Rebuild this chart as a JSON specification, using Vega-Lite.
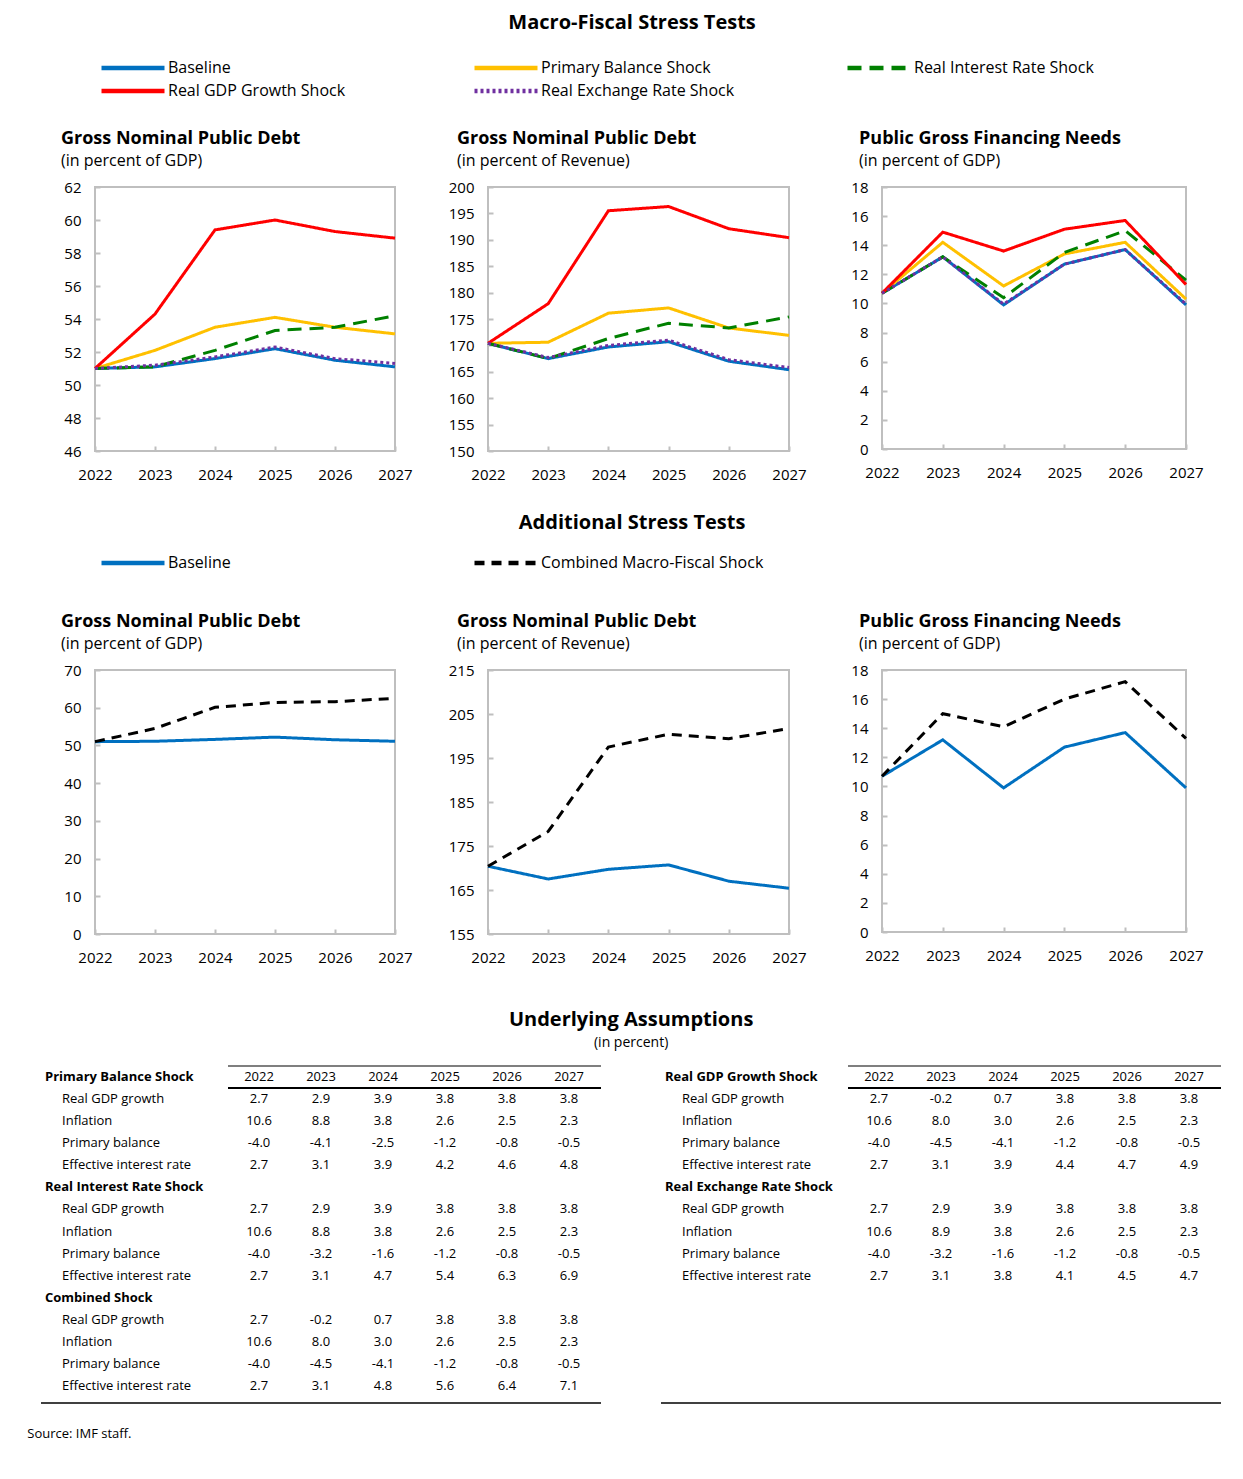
{
  "$schema": "https://vega.github.io/schema/vega-lite/v6.json",
  "background": "white",
  "padding": {"left": 27, "top": 13, "right": 5, "bottom": 5},
  "title": {"text": "Source: IMF staff.", "orient": "bottom", "anchor": "start", "frame": "bounds", "fontSize": 13, "fontWeight": "normal", "dx": -13, "offset": 24},
  "datasets": {
    "lines": [
      {"panel": "A1", "series": "Baseline", "year": 2022, "value": 51.0},
      {"panel": "A1", "series": "Baseline", "year": 2023, "value": 51.1},
      {"panel": "A1", "series": "Baseline", "year": 2024, "value": 51.6},
      {"panel": "A1", "series": "Baseline", "year": 2025, "value": 52.2},
      {"panel": "A1", "series": "Baseline", "year": 2026, "value": 51.5},
      {"panel": "A1", "series": "Baseline", "year": 2027, "value": 51.1},
      {"panel": "A1", "series": "Primary Balance Shock", "year": 2022, "value": 51.0},
      {"panel": "A1", "series": "Primary Balance Shock", "year": 2023, "value": 52.1},
      {"panel": "A1", "series": "Primary Balance Shock", "year": 2024, "value": 53.5},
      {"panel": "A1", "series": "Primary Balance Shock", "year": 2025, "value": 54.1},
      {"panel": "A1", "series": "Primary Balance Shock", "year": 2026, "value": 53.5},
      {"panel": "A1", "series": "Primary Balance Shock", "year": 2027, "value": 53.1},
      {"panel": "A1", "series": "Real Interest Rate Shock", "year": 2022, "value": 51.0},
      {"panel": "A1", "series": "Real Interest Rate Shock", "year": 2023, "value": 51.1},
      {"panel": "A1", "series": "Real Interest Rate Shock", "year": 2024, "value": 52.1},
      {"panel": "A1", "series": "Real Interest Rate Shock", "year": 2025, "value": 53.3},
      {"panel": "A1", "series": "Real Interest Rate Shock", "year": 2026, "value": 53.5},
      {"panel": "A1", "series": "Real Interest Rate Shock", "year": 2027, "value": 54.2},
      {"panel": "A1", "series": "Real GDP Growth Shock", "year": 2022, "value": 51.0},
      {"panel": "A1", "series": "Real GDP Growth Shock", "year": 2023, "value": 54.3},
      {"panel": "A1", "series": "Real GDP Growth Shock", "year": 2024, "value": 59.4},
      {"panel": "A1", "series": "Real GDP Growth Shock", "year": 2025, "value": 60.0},
      {"panel": "A1", "series": "Real GDP Growth Shock", "year": 2026, "value": 59.3},
      {"panel": "A1", "series": "Real GDP Growth Shock", "year": 2027, "value": 58.9},
      {"panel": "A1", "series": "Real Exchange Rate Shock", "year": 2022, "value": 51.0},
      {"panel": "A1", "series": "Real Exchange Rate Shock", "year": 2023, "value": 51.2},
      {"panel": "A1", "series": "Real Exchange Rate Shock", "year": 2024, "value": 51.7},
      {"panel": "A1", "series": "Real Exchange Rate Shock", "year": 2025, "value": 52.3},
      {"panel": "A1", "series": "Real Exchange Rate Shock", "year": 2026, "value": 51.6},
      {"panel": "A1", "series": "Real Exchange Rate Shock", "year": 2027, "value": 51.3},

      {"panel": "A2", "series": "Baseline", "year": 2022, "value": 170.4},
      {"panel": "A2", "series": "Baseline", "year": 2023, "value": 167.5},
      {"panel": "A2", "series": "Baseline", "year": 2024, "value": 169.7},
      {"panel": "A2", "series": "Baseline", "year": 2025, "value": 170.7},
      {"panel": "A2", "series": "Baseline", "year": 2026, "value": 167.0},
      {"panel": "A2", "series": "Baseline", "year": 2027, "value": 165.4},
      {"panel": "A2", "series": "Primary Balance Shock", "year": 2022, "value": 170.4},
      {"panel": "A2", "series": "Primary Balance Shock", "year": 2023, "value": 170.6},
      {"panel": "A2", "series": "Primary Balance Shock", "year": 2024, "value": 176.1},
      {"panel": "A2", "series": "Primary Balance Shock", "year": 2025, "value": 177.1},
      {"panel": "A2", "series": "Primary Balance Shock", "year": 2026, "value": 173.3},
      {"panel": "A2", "series": "Primary Balance Shock", "year": 2027, "value": 171.9},
      {"panel": "A2", "series": "Real Interest Rate Shock", "year": 2022, "value": 170.4},
      {"panel": "A2", "series": "Real Interest Rate Shock", "year": 2023, "value": 167.5},
      {"panel": "A2", "series": "Real Interest Rate Shock", "year": 2024, "value": 171.3},
      {"panel": "A2", "series": "Real Interest Rate Shock", "year": 2025, "value": 174.2},
      {"panel": "A2", "series": "Real Interest Rate Shock", "year": 2026, "value": 173.3},
      {"panel": "A2", "series": "Real Interest Rate Shock", "year": 2027, "value": 175.4},
      {"panel": "A2", "series": "Real GDP Growth Shock", "year": 2022, "value": 170.4},
      {"panel": "A2", "series": "Real GDP Growth Shock", "year": 2023, "value": 177.9},
      {"panel": "A2", "series": "Real GDP Growth Shock", "year": 2024, "value": 195.5},
      {"panel": "A2", "series": "Real GDP Growth Shock", "year": 2025, "value": 196.3},
      {"panel": "A2", "series": "Real GDP Growth Shock", "year": 2026, "value": 192.1},
      {"panel": "A2", "series": "Real GDP Growth Shock", "year": 2027, "value": 190.4},
      {"panel": "A2", "series": "Real Exchange Rate Shock", "year": 2022, "value": 170.4},
      {"panel": "A2", "series": "Real Exchange Rate Shock", "year": 2023, "value": 167.7},
      {"panel": "A2", "series": "Real Exchange Rate Shock", "year": 2024, "value": 170.0},
      {"panel": "A2", "series": "Real Exchange Rate Shock", "year": 2025, "value": 171.0},
      {"panel": "A2", "series": "Real Exchange Rate Shock", "year": 2026, "value": 167.3},
      {"panel": "A2", "series": "Real Exchange Rate Shock", "year": 2027, "value": 165.8},

      {"panel": "A3", "series": "Baseline", "year": 2022, "value": 10.7},
      {"panel": "A3", "series": "Baseline", "year": 2023, "value": 13.2},
      {"panel": "A3", "series": "Baseline", "year": 2024, "value": 9.9},
      {"panel": "A3", "series": "Baseline", "year": 2025, "value": 12.7},
      {"panel": "A3", "series": "Baseline", "year": 2026, "value": 13.7},
      {"panel": "A3", "series": "Baseline", "year": 2027, "value": 9.9},
      {"panel": "A3", "series": "Primary Balance Shock", "year": 2022, "value": 10.7},
      {"panel": "A3", "series": "Primary Balance Shock", "year": 2023, "value": 14.2},
      {"panel": "A3", "series": "Primary Balance Shock", "year": 2024, "value": 11.2},
      {"panel": "A3", "series": "Primary Balance Shock", "year": 2025, "value": 13.4},
      {"panel": "A3", "series": "Primary Balance Shock", "year": 2026, "value": 14.2},
      {"panel": "A3", "series": "Primary Balance Shock", "year": 2027, "value": 10.3},
      {"panel": "A3", "series": "Real Interest Rate Shock", "year": 2022, "value": 10.7},
      {"panel": "A3", "series": "Real Interest Rate Shock", "year": 2023, "value": 13.2},
      {"panel": "A3", "series": "Real Interest Rate Shock", "year": 2024, "value": 10.4},
      {"panel": "A3", "series": "Real Interest Rate Shock", "year": 2025, "value": 13.5},
      {"panel": "A3", "series": "Real Interest Rate Shock", "year": 2026, "value": 15.0},
      {"panel": "A3", "series": "Real Interest Rate Shock", "year": 2027, "value": 11.6},
      {"panel": "A3", "series": "Real GDP Growth Shock", "year": 2022, "value": 10.7},
      {"panel": "A3", "series": "Real GDP Growth Shock", "year": 2023, "value": 14.9},
      {"panel": "A3", "series": "Real GDP Growth Shock", "year": 2024, "value": 13.6},
      {"panel": "A3", "series": "Real GDP Growth Shock", "year": 2025, "value": 15.1},
      {"panel": "A3", "series": "Real GDP Growth Shock", "year": 2026, "value": 15.7},
      {"panel": "A3", "series": "Real GDP Growth Shock", "year": 2027, "value": 11.3},
      {"panel": "A3", "series": "Real Exchange Rate Shock", "year": 2022, "value": 10.7},
      {"panel": "A3", "series": "Real Exchange Rate Shock", "year": 2023, "value": 13.2},
      {"panel": "A3", "series": "Real Exchange Rate Shock", "year": 2024, "value": 9.95},
      {"panel": "A3", "series": "Real Exchange Rate Shock", "year": 2025, "value": 12.7},
      {"panel": "A3", "series": "Real Exchange Rate Shock", "year": 2026, "value": 13.7},
      {"panel": "A3", "series": "Real Exchange Rate Shock", "year": 2027, "value": 9.95},

      {"panel": "B1", "series": "Baseline", "year": 2022, "value": 51.0},
      {"panel": "B1", "series": "Baseline", "year": 2023, "value": 51.1},
      {"panel": "B1", "series": "Baseline", "year": 2024, "value": 51.6},
      {"panel": "B1", "series": "Baseline", "year": 2025, "value": 52.2},
      {"panel": "B1", "series": "Baseline", "year": 2026, "value": 51.5},
      {"panel": "B1", "series": "Baseline", "year": 2027, "value": 51.1},
      {"panel": "B1", "series": "Combined Macro-Fiscal Shock", "year": 2022, "value": 51.0},
      {"panel": "B1", "series": "Combined Macro-Fiscal Shock", "year": 2023, "value": 54.5},
      {"panel": "B1", "series": "Combined Macro-Fiscal Shock", "year": 2024, "value": 60.1},
      {"panel": "B1", "series": "Combined Macro-Fiscal Shock", "year": 2025, "value": 61.4},
      {"panel": "B1", "series": "Combined Macro-Fiscal Shock", "year": 2026, "value": 61.6},
      {"panel": "B1", "series": "Combined Macro-Fiscal Shock", "year": 2027, "value": 62.5},

      {"panel": "B2", "series": "Baseline", "year": 2022, "value": 170.4},
      {"panel": "B2", "series": "Baseline", "year": 2023, "value": 167.5},
      {"panel": "B2", "series": "Baseline", "year": 2024, "value": 169.7},
      {"panel": "B2", "series": "Baseline", "year": 2025, "value": 170.7},
      {"panel": "B2", "series": "Baseline", "year": 2026, "value": 167.0},
      {"panel": "B2", "series": "Baseline", "year": 2027, "value": 165.4},
      {"panel": "B2", "series": "Combined Macro-Fiscal Shock", "year": 2022, "value": 170.4},
      {"panel": "B2", "series": "Combined Macro-Fiscal Shock", "year": 2023, "value": 178.3},
      {"panel": "B2", "series": "Combined Macro-Fiscal Shock", "year": 2024, "value": 197.5},
      {"panel": "B2", "series": "Combined Macro-Fiscal Shock", "year": 2025, "value": 200.4},
      {"panel": "B2", "series": "Combined Macro-Fiscal Shock", "year": 2026, "value": 199.4},
      {"panel": "B2", "series": "Combined Macro-Fiscal Shock", "year": 2027, "value": 201.7},

      {"panel": "B3", "series": "Baseline", "year": 2022, "value": 10.7},
      {"panel": "B3", "series": "Baseline", "year": 2023, "value": 13.2},
      {"panel": "B3", "series": "Baseline", "year": 2024, "value": 9.9},
      {"panel": "B3", "series": "Baseline", "year": 2025, "value": 12.7},
      {"panel": "B3", "series": "Baseline", "year": 2026, "value": 13.7},
      {"panel": "B3", "series": "Baseline", "year": 2027, "value": 9.9},
      {"panel": "B3", "series": "Combined Macro-Fiscal Shock", "year": 2022, "value": 10.7},
      {"panel": "B3", "series": "Combined Macro-Fiscal Shock", "year": 2023, "value": 15.0},
      {"panel": "B3", "series": "Combined Macro-Fiscal Shock", "year": 2024, "value": 14.1},
      {"panel": "B3", "series": "Combined Macro-Fiscal Shock", "year": 2025, "value": 16.0},
      {"panel": "B3", "series": "Combined Macro-Fiscal Shock", "year": 2026, "value": 17.2},
      {"panel": "B3", "series": "Combined Macro-Fiscal Shock", "year": 2027, "value": 13.3}
    ],
    "assump": [
      {"tbl": "L", "row": "PB", "label": "Primary Balance Shock", "kind": "section"},
      {"tbl": "L", "row": "PB-gdp", "label": "Real GDP growth", "kind": "item", "2022": 2.7, "2023": 2.9, "2024": 3.9, "2025": 3.8, "2026": 3.8, "2027": 3.8},
      {"tbl": "L", "row": "PB-inf", "label": "Inflation", "kind": "item", "2022": 10.6, "2023": 8.8, "2024": 3.8, "2025": 2.6, "2026": 2.5, "2027": 2.3},
      {"tbl": "L", "row": "PB-pb", "label": "Primary balance", "kind": "item", "2022": -4.0, "2023": -4.1, "2024": -2.5, "2025": -1.2, "2026": -0.8, "2027": -0.5},
      {"tbl": "L", "row": "PB-eir", "label": "Effective interest rate", "kind": "item", "2022": 2.7, "2023": 3.1, "2024": 3.9, "2025": 4.2, "2026": 4.6, "2027": 4.8},
      {"tbl": "L", "row": "RI", "label": "Real Interest Rate Shock", "kind": "section"},
      {"tbl": "L", "row": "RI-gdp", "label": "Real GDP growth", "kind": "item", "2022": 2.7, "2023": 2.9, "2024": 3.9, "2025": 3.8, "2026": 3.8, "2027": 3.8},
      {"tbl": "L", "row": "RI-inf", "label": "Inflation", "kind": "item", "2022": 10.6, "2023": 8.8, "2024": 3.8, "2025": 2.6, "2026": 2.5, "2027": 2.3},
      {"tbl": "L", "row": "RI-pb", "label": "Primary balance", "kind": "item", "2022": -4.0, "2023": -3.2, "2024": -1.6, "2025": -1.2, "2026": -0.8, "2027": -0.5},
      {"tbl": "L", "row": "RI-eir", "label": "Effective interest rate", "kind": "item", "2022": 2.7, "2023": 3.1, "2024": 4.7, "2025": 5.4, "2026": 6.3, "2027": 6.9},
      {"tbl": "L", "row": "CS", "label": "Combined Shock", "kind": "section"},
      {"tbl": "L", "row": "CS-gdp", "label": "Real GDP growth", "kind": "item", "2022": 2.7, "2023": -0.2, "2024": 0.7, "2025": 3.8, "2026": 3.8, "2027": 3.8},
      {"tbl": "L", "row": "CS-inf", "label": "Inflation", "kind": "item", "2022": 10.6, "2023": 8.0, "2024": 3.0, "2025": 2.6, "2026": 2.5, "2027": 2.3},
      {"tbl": "L", "row": "CS-pb", "label": "Primary balance", "kind": "item", "2022": -4.0, "2023": -4.5, "2024": -4.1, "2025": -1.2, "2026": -0.8, "2027": -0.5},
      {"tbl": "L", "row": "CS-eir", "label": "Effective interest rate", "kind": "item", "2022": 2.7, "2023": 3.1, "2024": 4.8, "2025": 5.6, "2026": 6.4, "2027": 7.1},
      {"tbl": "R", "row": "RG", "label": "Real GDP Growth Shock", "kind": "section"},
      {"tbl": "R", "row": "RG-gdp", "label": "Real GDP growth", "kind": "item", "2022": 2.7, "2023": -0.2, "2024": 0.7, "2025": 3.8, "2026": 3.8, "2027": 3.8},
      {"tbl": "R", "row": "RG-inf", "label": "Inflation", "kind": "item", "2022": 10.6, "2023": 8.0, "2024": 3.0, "2025": 2.6, "2026": 2.5, "2027": 2.3},
      {"tbl": "R", "row": "RG-pb", "label": "Primary balance", "kind": "item", "2022": -4.0, "2023": -4.5, "2024": -4.1, "2025": -1.2, "2026": -0.8, "2027": -0.5},
      {"tbl": "R", "row": "RG-eir", "label": "Effective interest rate", "kind": "item", "2022": 2.7, "2023": 3.1, "2024": 3.9, "2025": 4.4, "2026": 4.7, "2027": 4.9},
      {"tbl": "R", "row": "RE", "label": "Real Exchange Rate Shock", "kind": "section"},
      {"tbl": "R", "row": "RE-gdp", "label": "Real GDP growth", "kind": "item", "2022": 2.7, "2023": 2.9, "2024": 3.9, "2025": 3.8, "2026": 3.8, "2027": 3.8},
      {"tbl": "R", "row": "RE-inf", "label": "Inflation", "kind": "item", "2022": 10.6, "2023": 8.9, "2024": 3.8, "2025": 2.6, "2026": 2.5, "2027": 2.3},
      {"tbl": "R", "row": "RE-pb", "label": "Primary balance", "kind": "item", "2022": -4.0, "2023": -3.2, "2024": -1.6, "2025": -1.2, "2026": -0.8, "2027": -0.5},
      {"tbl": "R", "row": "RE-eir", "label": "Effective interest rate", "kind": "item", "2022": 2.7, "2023": 3.1, "2024": 3.8, "2025": 4.1, "2026": 4.5, "2027": 4.7}
    ],
    "years": [{"year": 2022}, {"year": 2023}, {"year": 2024}, {"year": 2025}, {"year": 2026}, {"year": 2027}]
  },
  "vconcat": [
    {
      "vconcat": [
        {
          "title": {"text": "Macro-Fiscal Stress Tests", "anchor": "middle", "frame": "bounds", "fontSize": 20, "offset": 22},
          "bounds": "flush",
          "spacing": 93,
          "hconcat": [
            {
              "width": 300, "height": 264,
              "title": {"text": "Gross Nominal Public Debt", "subtitle": "(in percent of GDP)", "dx": -34},
              "data": {"name": "lines"},
              "transform": [{"filter": "datum.panel == 'A1'"}],
              "mark": {"type": "line", "strokeWidth": 3},
              "encoding": {
                "x": {"field": "year", "type": "ordinal", "scale": {"type": "point", "padding": 0}, "axis": {"title": null}},
                "y": {"field": "value", "type": "quantitative", "scale": {"domain": [46, 62], "nice": false, "zero": false}, "axis": {"title": null, "values": [46, 48, 50, 52, 54, 56, 58, 60, 62]}},
                "color": {"field": "series", "type": "nominal", "title": null, "scale": {"domain": ["Baseline", "Primary Balance Shock", "Real Interest Rate Shock", "Real GDP Growth Shock", "Real Exchange Rate Shock"], "range": ["#0070C0", "#FFC000", "#008000", "#FF0000", "#7030A0"]}, "legend": {"columnPadding": 103, "offset": 29}},
                "strokeDash": {"field": "series", "type": "nominal", "title": null, "scale": {"domain": ["Baseline", "Primary Balance Shock", "Real Interest Rate Shock", "Real GDP Growth Shock", "Real Exchange Rate Shock"], "range": [[1, 0], [1, 0], [14, 8], [1, 0], [3, 3]]}, "legend": {"columnPadding": 103, "offset": 29}}
              }
            },
            {
              "width": 301, "height": 264,
              "title": {"text": "Gross Nominal Public Debt", "subtitle": "(in percent of Revenue)", "dx": -31},
              "data": {"name": "lines"},
              "transform": [{"filter": "datum.panel == 'A2'"}],
              "mark": {"type": "line", "strokeWidth": 3},
              "encoding": {
                "x": {"field": "year", "type": "ordinal", "scale": {"type": "point", "padding": 0}, "axis": {"title": null}},
                "y": {"field": "value", "type": "quantitative", "scale": {"domain": [150, 200], "nice": false, "zero": false}, "axis": {"title": null, "values": [150, 155, 160, 165, 170, 175, 180, 185, 190, 195, 200]}},
                "color": {"field": "series", "type": "nominal", "title": null, "scale": {"domain": ["Baseline", "Primary Balance Shock", "Real Interest Rate Shock", "Real GDP Growth Shock", "Real Exchange Rate Shock"], "range": ["#0070C0", "#FFC000", "#008000", "#FF0000", "#7030A0"]}, "legend": {"columnPadding": 103, "offset": 29}},
                "strokeDash": {"field": "series", "type": "nominal", "title": null, "scale": {"domain": ["Baseline", "Primary Balance Shock", "Real Interest Rate Shock", "Real GDP Growth Shock", "Real Exchange Rate Shock"], "range": [[1, 0], [1, 0], [14, 8], [1, 0], [3, 3]]}, "legend": {"columnPadding": 103, "offset": 29}}
              }
            },
            {
              "width": 304, "height": 262,
              "title": {"text": "Public Gross Financing Needs", "subtitle": "(in percent of GDP)", "dx": -23},
              "data": {"name": "lines"},
              "transform": [{"filter": "datum.panel == 'A3'"}],
              "mark": {"type": "line", "strokeWidth": 3},
              "encoding": {
                "x": {"field": "year", "type": "ordinal", "scale": {"type": "point", "padding": 0}, "axis": {"title": null}},
                "y": {"field": "value", "type": "quantitative", "scale": {"domain": [0, 18], "nice": false}, "axis": {"title": null, "values": [0, 2, 4, 6, 8, 10, 12, 14, 16, 18]}},
                "color": {"field": "series", "type": "nominal", "title": null, "scale": {"domain": ["Baseline", "Primary Balance Shock", "Real Interest Rate Shock", "Real GDP Growth Shock", "Real Exchange Rate Shock"], "range": ["#0070C0", "#FFC000", "#008000", "#FF0000", "#7030A0"]}, "legend": {"columnPadding": 103, "offset": 29}},
                "strokeDash": {"field": "series", "type": "nominal", "title": null, "scale": {"domain": ["Baseline", "Primary Balance Shock", "Real Interest Rate Shock", "Real GDP Growth Shock", "Real Exchange Rate Shock"], "range": [[1, 0], [1, 0], [14, 8], [1, 0], [3, 3]]}, "legend": {"columnPadding": 103, "offset": 29}}
              }
            }
          ]
        },
        {
          "title": {"text": "Additional Stress Tests", "anchor": "middle", "frame": "bounds", "fontSize": 20, "offset": 17},
          "bounds": "flush",
          "spacing": 93,
          "hconcat": [
            {
              "width": 300, "height": 264,
              "title": {"text": "Gross Nominal Public Debt", "subtitle": "(in percent of GDP)", "dx": -34},
              "data": {"name": "lines"},
              "transform": [{"filter": "datum.panel == 'B1'"}],
              "mark": {"type": "line", "strokeWidth": 3},
              "encoding": {
                "x": {"field": "year", "type": "ordinal", "scale": {"type": "point", "padding": 0}, "axis": {"title": null}},
                "y": {"field": "value", "type": "quantitative", "scale": {"domain": [0, 70], "nice": false}, "axis": {"title": null, "values": [0, 10, 20, 30, 40, 50, 60, 70]}},
                "color": {"field": "series", "type": "nominal", "title": null, "scale": {"domain": ["Baseline", "Combined Macro-Fiscal Shock"], "range": ["#0070C0", "#000000"]}, "legend": {"columnPadding": 74, "offset": 40}},
                "strokeDash": {"field": "series", "type": "nominal", "title": null, "scale": {"domain": ["Baseline", "Combined Macro-Fiscal Shock"], "range": [[1, 0], [10, 7]]}, "legend": {"columnPadding": 74, "offset": 40}}
              }
            },
            {
              "width": 301, "height": 264,
              "title": {"text": "Gross Nominal Public Debt", "subtitle": "(in percent of Revenue)", "dx": -31},
              "data": {"name": "lines"},
              "transform": [{"filter": "datum.panel == 'B2'"}],
              "mark": {"type": "line", "strokeWidth": 3},
              "encoding": {
                "x": {"field": "year", "type": "ordinal", "scale": {"type": "point", "padding": 0}, "axis": {"title": null}},
                "y": {"field": "value", "type": "quantitative", "scale": {"domain": [155, 215], "nice": false, "zero": false}, "axis": {"title": null, "values": [155, 165, 175, 185, 195, 205, 215]}},
                "color": {"field": "series", "type": "nominal", "title": null, "scale": {"domain": ["Baseline", "Combined Macro-Fiscal Shock"], "range": ["#0070C0", "#000000"]}, "legend": {"columnPadding": 74, "offset": 40}},
                "strokeDash": {"field": "series", "type": "nominal", "title": null, "scale": {"domain": ["Baseline", "Combined Macro-Fiscal Shock"], "range": [[1, 0], [10, 7]]}, "legend": {"columnPadding": 74, "offset": 40}}
              }
            },
            {
              "width": 304, "height": 262,
              "title": {"text": "Public Gross Financing Needs", "subtitle": "(in percent of GDP)", "dx": -23},
              "data": {"name": "lines"},
              "transform": [{"filter": "datum.panel == 'B3'"}],
              "mark": {"type": "line", "strokeWidth": 3},
              "encoding": {
                "x": {"field": "year", "type": "ordinal", "scale": {"type": "point", "padding": 0}, "axis": {"title": null}},
                "y": {"field": "value", "type": "quantitative", "scale": {"domain": [0, 18], "nice": false}, "axis": {"title": null, "values": [0, 2, 4, 6, 8, 10, 12, 14, 16, 18]}},
                "color": {"field": "series", "type": "nominal", "title": null, "scale": {"domain": ["Baseline", "Combined Macro-Fiscal Shock"], "range": ["#0070C0", "#000000"]}, "legend": {"columnPadding": 74, "offset": 40}},
                "strokeDash": {"field": "series", "type": "nominal", "title": null, "scale": {"domain": ["Baseline", "Combined Macro-Fiscal Shock"], "range": [[1, 0], [10, 7]]}, "legend": {"columnPadding": 74, "offset": 40}}
              }
            }
          ]
        }
      ],
      "spacing": 30,
      "resolve": {"scale": {"color": "independent", "strokeDash": "independent"}}
    },
    {
      "title": {"text": "Underlying Assumptions", "subtitle": "(in percent)", "anchor": "middle", "frame": "bounds", "fontSize": 20, "subtitleFontSize": 14, "subtitlePadding": 6, "offset": 15},
      "bounds": "flush",
      "spacing": 60,
      "hconcat": [
        {
          "width": 506, "height": 331,
          "view": {"stroke": null},
          "data": {"name": "assump"},
          "encoding": {"y": {"field": "row", "type": "ordinal", "scale": {"type": "band", "paddingInner": 0, "paddingOuter": 0, "domain": ["PB", "PB-gdp", "PB-inf", "PB-pb", "PB-eir", "RI", "RI-gdp", "RI-inf", "RI-pb", "RI-eir", "CS", "CS-gdp", "CS-inf", "CS-pb", "CS-eir"]}, "axis": null}},
          "layer": [
            {
              "transform": [{"filter": "datum.tbl == 'L' && datum.kind == 'section'"}],
              "mark": {"type": "text", "align": "left", "fontWeight": "bold", "fontSize": 13, "color": "#000"},
              "encoding": {"x": {"datum": 2018.548, "type": "quantitative", "scale": {"domain": [2019.3548, 2027.516], "nice": false, "zero": false}, "axis": null}, "text": {"field": "label"}}
            },
            {
              "transform": [{"filter": "datum.tbl == 'L' && datum.kind == 'item'"}],
              "mark": {"type": "text", "align": "left", "fontSize": 13, "color": "#000"},
              "encoding": {"x": {"datum": 2018.823, "type": "quantitative", "scale": {"domain": [2019.3548, 2027.516], "nice": false, "zero": false}, "axis": null}, "text": {"field": "label"}}
            },
            {
              "transform": [{"filter": "datum.tbl == 'L' && datum.kind == 'item'"}, {"fold": ["2022", "2023", "2024", "2025", "2026", "2027"], "as": ["yr", "v"]}],
              "mark": {"type": "text", "align": "center", "fontSize": 13, "color": "#000"},
              "encoding": {"x": {"field": "yr", "type": "quantitative", "scale": {"domain": [2019.3548, 2027.516], "nice": false, "zero": false}, "axis": null}, "text": {"field": "v", "type": "quantitative", "format": ".1f"}}
            },
            {
              "data": {"name": "years"},
              "mark": {"type": "text", "align": "center", "fontSize": 13, "color": "#000"},
              "encoding": {"x": {"field": "year", "type": "quantitative", "scale": {"domain": [2019.3548, 2027.516], "nice": false, "zero": false}, "axis": null}, "y": {"datum": "PB", "type": "ordinal"}, "text": {"field": "year", "type": "nominal"}}
            },
            {
              "data": {"values": [{"r": 1}]},
              "mark": {"type": "rule", "color": "#000", "strokeWidth": 1.2},
              "encoding": {"x": {"datum": 2021.5, "type": "quantitative", "scale": {"domain": [2019.3548, 2027.516], "nice": false, "zero": false}, "axis": null}, "x2": {"datum": 2027.516}, "y": {"datum": "PB", "type": "ordinal", "bandPosition": 0}}
            },
            {
              "data": {"values": [{"r": 1}]},
              "mark": {"type": "rule", "color": "#000", "strokeWidth": 2},
              "encoding": {"x": {"datum": 2021.5, "type": "quantitative", "scale": {"domain": [2019.3548, 2027.516], "nice": false, "zero": false}, "axis": null}, "x2": {"datum": 2027.516}, "y": {"datum": "PB", "type": "ordinal", "bandPosition": 1}}
            },
            {
              "data": {"values": [{"r": 1}]},
              "mark": {"type": "rule", "color": "#000", "strokeWidth": 1.5},
              "encoding": {"x": {"datum": 2018.484, "type": "quantitative", "scale": {"domain": [2019.3548, 2027.516], "nice": false, "zero": false}, "axis": null}, "x2": {"datum": 2027.516}, "y": {"datum": "CS-eir", "type": "ordinal", "bandPosition": 1.27}}
            }
          ]
        },
        {
          "width": 560, "height": 331,
          "view": {"stroke": null},
          "data": {"name": "assump"},
          "encoding": {"y": {"field": "row", "type": "ordinal", "scale": {"type": "band", "paddingInner": 0, "paddingOuter": 0, "domain": ["RG", "RG-gdp", "RG-inf", "RG-pb", "RG-eir", "RE", "RE-gdp", "RE-inf", "RE-pb", "RE-eir", "p1", "p2", "p3", "p4", "p5"]}, "axis": null}},
          "layer": [
            {
              "transform": [{"filter": "datum.tbl == 'R' && datum.kind == 'section'"}],
              "mark": {"type": "text", "align": "left", "fontWeight": "bold", "fontSize": 13, "color": "#000"},
              "encoding": {"x": {"datum": 2018.548, "type": "quantitative", "scale": {"domain": [2018.484, 2027.516], "nice": false, "zero": false}, "axis": null}, "text": {"field": "label"}}
            },
            {
              "transform": [{"filter": "datum.tbl == 'R' && datum.kind == 'item'"}],
              "mark": {"type": "text", "align": "left", "fontSize": 13, "color": "#000"},
              "encoding": {"x": {"datum": 2018.823, "type": "quantitative", "scale": {"domain": [2018.484, 2027.516], "nice": false, "zero": false}, "axis": null}, "text": {"field": "label"}}
            },
            {
              "transform": [{"filter": "datum.tbl == 'R' && datum.kind == 'item'"}, {"fold": ["2022", "2023", "2024", "2025", "2026", "2027"], "as": ["yr", "v"]}],
              "mark": {"type": "text", "align": "center", "fontSize": 13, "color": "#000"},
              "encoding": {"x": {"field": "yr", "type": "quantitative", "scale": {"domain": [2018.484, 2027.516], "nice": false, "zero": false}, "axis": null}, "text": {"field": "v", "type": "quantitative", "format": ".1f"}}
            },
            {
              "data": {"name": "years"},
              "mark": {"type": "text", "align": "center", "fontSize": 13, "color": "#000"},
              "encoding": {"x": {"field": "year", "type": "quantitative", "scale": {"domain": [2018.484, 2027.516], "nice": false, "zero": false}, "axis": null}, "y": {"datum": "RG", "type": "ordinal"}, "text": {"field": "year", "type": "nominal"}}
            },
            {
              "data": {"values": [{"r": 1}]},
              "mark": {"type": "rule", "color": "#000", "strokeWidth": 1.2},
              "encoding": {"x": {"datum": 2021.5, "type": "quantitative", "scale": {"domain": [2018.484, 2027.516], "nice": false, "zero": false}, "axis": null}, "x2": {"datum": 2027.516}, "y": {"datum": "RG", "type": "ordinal", "bandPosition": 0}}
            },
            {
              "data": {"values": [{"r": 1}]},
              "mark": {"type": "rule", "color": "#000", "strokeWidth": 2},
              "encoding": {"x": {"datum": 2021.5, "type": "quantitative", "scale": {"domain": [2018.484, 2027.516], "nice": false, "zero": false}, "axis": null}, "x2": {"datum": 2027.516}, "y": {"datum": "RG", "type": "ordinal", "bandPosition": 1}}
            },
            {
              "data": {"values": [{"r": 1}]},
              "mark": {"type": "rule", "color": "#000", "strokeWidth": 1.5},
              "encoding": {"x": {"datum": 2018.484, "type": "quantitative", "scale": {"domain": [2018.484, 2027.516], "nice": false, "zero": false}, "axis": null}, "x2": {"datum": 2027.516}, "y": {"datum": "p5", "type": "ordinal", "bandPosition": 1.27}}
            }
          ]
        }
      ]
    }
  ],
  "spacing": 44,
  "resolve": {"scale": {"color": "independent", "strokeDash": "independent"}},
  "config": {
    "font": "Open Sans",
    "locale": {"number": {"decimal": ".", "thousands": ",", "grouping": [3], "currency": ["$", ""], "minus": "-"}},
    "view": {"stroke": "#BFBFBF", "strokeWidth": 2},
    "axis": {"grid": false, "domain": false, "labelFontSize": 15, "labelColor": "#000", "tickColor": "#BFBFBF", "tickWidth": 2, "tickSize": -5, "labelPadding": 19},
    "axisX": {"labelAngle": 0, "labelPadding": 21},
    "title": {"anchor": "start", "frame": "group", "fontSize": 18, "fontWeight": "bold", "color": "#000", "subtitleFontSize": 16, "subtitleColor": "#000", "subtitlePadding": 5, "offset": 11},
    "legend": {"orient": "top", "columns": 3, "gridAlign": "all", "symbolType": "M-3,0H3", "symbolSize": 441, "symbolStrokeWidth": 4.5, "symbolOffset": 25, "labelFontSize": 16, "labelColor": "#000", "labelOffset": 22, "rowPadding": 1, "labelLimit": 400, "offset": 29}
  }
}
